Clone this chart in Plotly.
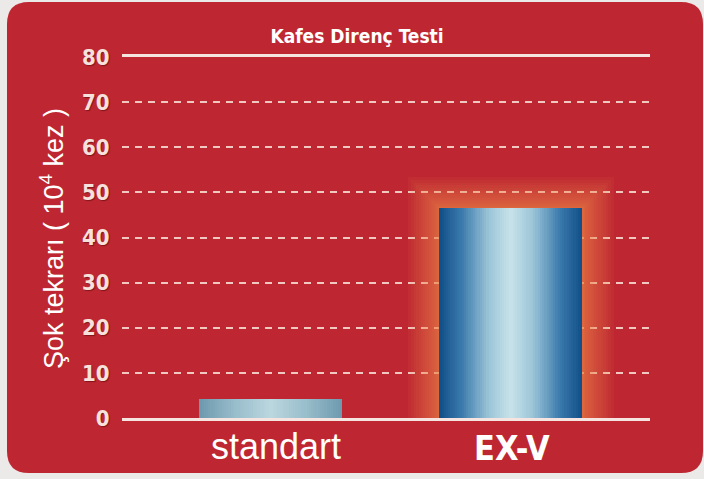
import plotly.graph_objects as go

# ---- data ----
categories = ["standart", "EX-V"]
values = [4.2, 46.5]
tick_vals = [0, 10, 20, 30, 40, 50, 60, 70, 80]
title_text = "Kafes Direnç Testi"
y_title = "Şok tekrarı ( 10<sup>4</sup> kez )"

# ---- styling helpers ----
def hex2rgb(h):
    h = h.lstrip("#")
    return tuple(int(h[i:i + 2], 16) for i in (0, 2, 4))

def interp(stops, t):
    for (t0, c0), (t1, c1) in zip(stops[:-1], stops[1:]):
        if t0 <= t <= t1:
            f = (t - t0) / (t1 - t0) if t1 > t0 else 0
            a, b = hex2rgb(c0), hex2rgb(c1)
            return "rgb(%d,%d,%d)" % tuple(round(a[k] + (b[k] - a[k]) * f) for k in range(3))
    return stops[-1][1]

stops_std = [(0, "#6E9AAF"), (0.5, "#98BDCB"), (1, "#BAD6DE")]
stops_exv = [(0, "#12508A"), (0.3, "#3A79AB"), (0.7, "#9CC5D8"), (1, "#C6E1E9")]

BAR_W = 0.596
N = 32
M = 18

COND = "DejaVu Sans Condensed, DejaVu Sans, sans-serif"

# plot-area geometry in pixels (used only for decoration placement)
PL, PR, PT, PB = 122, 650, 57, 418
def py2paper(py):
    return (PB - py) / (PB - PT)
def px2paper(px):
    return (px - PL) / (PR - PL)

fig = go.Figure()

# glow behind EX-V
for j in range(M):
    f = j / (M - 1)
    fig.add_trace(go.Bar(
        x=[0, 1], y=[None, values[1] + 6.5 * (1 - f) ** 1.6 + 0.3],
        width=[0, BAR_W + 0.25 * (1 - f) ** 1.6 + 0.01],
        marker=dict(color="#F08A50", line=dict(width=0)),
        opacity=0.065, hoverinfo="skip", showlegend=False))

# gradient bars as stacked overlays
for i in range(N):
    t = i / (N - 1)
    w = BAR_W * (1 - t * 0.97)
    fig.add_trace(go.Bar(
        x=[0, 1], y=values, width=[w, w],
        marker=dict(color=[interp(stops_std, t), interp(stops_exv, t)], line=dict(width=0)),
        hoverinfo="skip", showlegend=False))

# background card
def P(px, py):
    return f"{px2paper(px):.5f},{py2paper(py):.5f}"

L, R, T, B, r = 7, 703, 2, 473, 22
path = (f"M {P(L + r, T)} L {P(R - r, T)} Q {P(R, T)} {P(R, T + r)} "
        f"L {P(R, B - r)} Q {P(R, B)} {P(R - r, B)} L {P(L + r, B)} "
        f"Q {P(L, B)} {P(L, B - r)} L {P(L, T + r)} Q {P(L, T)} {P(L + r, T)} Z")
fig.add_shape(type="path", path=path, xref="paper", yref="paper",
              fillcolor="#BE2732", line=dict(width=0), layer="below")

annotations = [
    dict(text=y_title, xref="paper", yref="paper",
         x=px2paper(52), y=py2paper(239), textangle=-90,
         showarrow=False, xanchor="center", yanchor="middle",
         font=dict(family="Liberation Sans", size=27, color="#FFFFFF")),
    dict(text=categories[0], xref="x", yref="paper", x=0, y=py2paper(446),
         showarrow=False, xanchor="center", yanchor="middle", xshift=5,
         font=dict(family="Liberation Sans", size=36, color="#FFFFFF")),
    dict(text=categories[1], xref="x", yref="paper", x=1, y=py2paper(448),
         showarrow=False, xanchor="center", yanchor="middle", xshift=1,
         font=dict(family=COND, size=34, color="#FFFFFF", weight=700)),
]

fig.update_layout(
    width=704, height=479,
    margin=dict(l=PL, r=704 - PR, t=PT, b=479 - PB),
    paper_bgcolor="#ECE9E9", plot_bgcolor="rgba(0,0,0,0)",
    barmode="overlay", bargap=0,
    title=dict(text=title_text, x=357 / 704, xanchor="center",
               y=1 - 36 / 479, yanchor="middle",
               font=dict(family=COND, size=19, color="#FFFFFF", weight=700)),
    xaxis=dict(range=[-0.62, 1.58], tickvals=[0, 1], showticklabels=False,
               automargin=False, ticks="",
               showgrid=False, zeroline=False,
               showline=True, mirror=True, linecolor="#F6E4E0", linewidth=2.5),
    yaxis=dict(range=[0, 80], tickvals=tick_vals, automargin=False,
               tickfont=dict(family=COND, size=22, color="#F6E1DC", weight=700,
                             shadow="1px 1px 1px rgba(90,10,10,0.6)"),
               ticks="outside", ticklen=7, tickcolor="rgba(0,0,0,0)",
               showgrid=True, gridcolor="#F1C9C0", gridwidth=1.5, griddash="7px,6px",
               zeroline=False, showline=False),
    annotations=annotations,
)

fig.write_html(
    "out.html",
    config={"displayModeBar": False},
    post_script=("document.documentElement.style.margin='0';"
                 "document.documentElement.style.overflow='hidden';"
                 "document.body.style.margin='0';document.body.style.overflow='hidden';"))
